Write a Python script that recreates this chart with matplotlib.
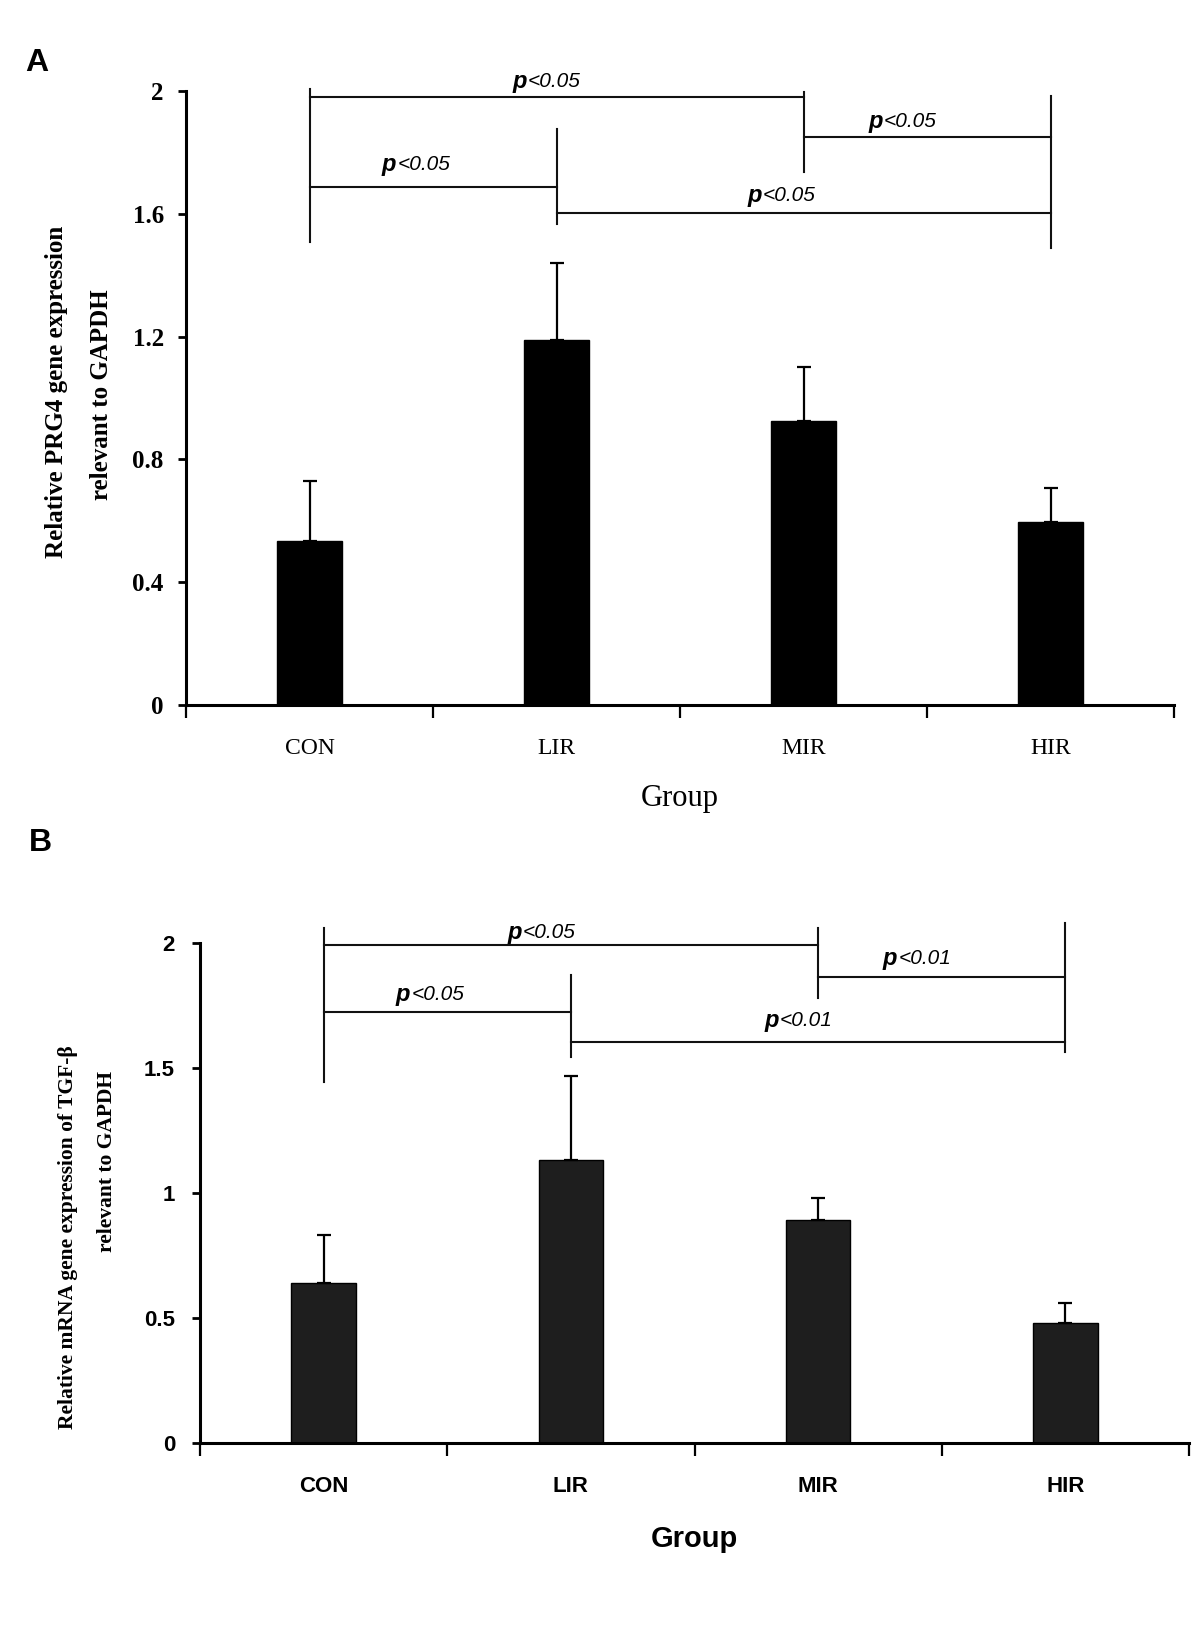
import matplotlib
matplotlib.use("Agg")
import matplotlib.pyplot as plt

groups = ['CON', 'LIR', 'MIR', 'HIR']

# panel A: PRG4
prg4_mean = [0.535, 1.19, 0.925, 0.597]
prg4_err = [0.195, 0.25, 0.175, 0.11]
prg4_ticks = [0, 0.4, 0.8, 1.2, 1.6, 2]
prg4_ticklabels = ['0', '0.4', '0.8', '1.2', '1.6', '2']
prg4_p = ['<0.05', '<0.05', '<0.05', '<0.05']

# panel B: TGF-beta
tgf_mean = [0.641, 1.132, 0.892, 0.481]
tgf_err = [0.192, 0.336, 0.088, 0.08]
tgf_ticks = [0, 0.5, 1, 1.5, 2]
tgf_ticklabels = ['0', '0.5', '1', '1.5', '2']
tgf_p = ['<0.05', '<0.05', '<0.01', '<0.01']

# bracket geometry (x in group index, y in data units)
a_vert = [(0, 1.508, 2.006), (1, 1.567, 1.876), (2, 1.736, 1.997), (3, 1.49, 1.984)]
a_horz = [(0, 2, 1.98), (0, 1, 1.687), (2, 3, 1.85), (1, 3, 1.603)]
a_lab = [(0.98, 2.03), (0.45, 1.76), (2.42, 1.90), (1.93, 1.66)]

b_vert = [(0, 1.444, 2.06), (1, 1.544, 1.872), (2, 1.78, 2.06), (3, 1.564, 2.08)]
b_horz = [(0, 2, 1.99), (0, 1, 1.724), (2, 3, 1.864), (1, 3, 1.604)]
b_lab = [(0.90, 2.044), (0.45, 1.796), (2.42, 1.94), (1.94, 1.69)]

W, H = 1200, 1636
fig = plt.figure(figsize=(W / 100, H / 100), dpi=100)

serif = ['Liberation Serif', 'DejaVu Serif']
narrow = ['Liberation Sans Narrow', 'Liberation Sans', 'DejaVu Sans']
arial = ['Liberation Sans', 'DejaVu Sans']


def px_axes(left, right, top, bottom):
    return fig.add_axes([left / W, 1 - bottom / H, (right - left) / W, (bottom - top) / H])


def draw_panel(ax, mean, err, color, ticks, ticklabels, tickfont, ticksize, tickpad,
               xfont, xweight, xsize, vert, horz, lab, ptext):
    x = range(len(groups))
    ax.bar(x, mean, width=0.26, color=color, edgecolor='black', linewidth=1, zorder=2)
    ax.errorbar(x, mean, yerr=[[0] * len(err), err], fmt='none', ecolor='black',
                elinewidth=1.6, capsize=5, capthick=1.6, zorder=3)
    ax.set_xlim(-0.5, 3.5)
    ax.set_ylim(0, 2)
    for s in ['top', 'right']:
        ax.spines[s].set_visible(False)
    for s in ['left', 'bottom']:
        ax.spines[s].set_linewidth(2.2)
    ax.set_yticks(ticks)
    ax.set_yticklabels(ticklabels, family=tickfont, fontsize=ticksize, fontweight='bold')
    ax.tick_params(axis='y', length=6, width=2, pad=tickpad)
    ax.set_xticks([-0.5, 0.5, 1.5, 2.5, 3.5])
    ax.set_xticklabels([])
    ax.tick_params(axis='x', length=9, width=1.6, direction='out')
    ax.set_xticks(list(x), minor=True)
    ax.set_xticklabels(groups, minor=True, family=xfont, fontsize=xsize, fontweight=xweight)
    ax.tick_params(axis='x', which='minor', length=0, pad=24)
    for xv, y0, y1 in vert:
        ax.plot([xv, xv], [y0, y1], color='#111111', lw=1.5, clip_on=False)
    for x0, x1, yv in horz:
        ax.plot([x0, x1], [yv, yv], color='#111111', lw=1.5, clip_on=False)
    for (lx, ly), t in zip(lab, ptext):
        ax.text(lx - 0.1, ly, 'p', style='italic', fontweight='bold', family=arial,
                fontsize=17, ha='right', va='center', clip_on=False)
        ax.text(lx - 0.095, ly, t, style='italic', family=arial,
                fontsize=15, ha='left', va='center', clip_on=False)


axA = px_axes(186, 1174, 91, 705)
draw_panel(axA, prg4_mean, prg4_err, 'black', prg4_ticks, prg4_ticklabels, serif, 18, 10,
           serif, 'normal', 17, a_vert, a_horz, a_lab, prg4_p)
axA.set_xlabel('Group', family=serif, fontsize=22, labelpad=18)

axB = px_axes(200, 1189, 943, 1443)
draw_panel(axB, tgf_mean, tgf_err, '#1e1e1e', tgf_ticks, tgf_ticklabels, narrow, 16, 12,
           narrow, 'bold', 16, b_vert, b_horz, b_lab, tgf_p)
axB.set_xlabel('Group', family=narrow, fontsize=21, fontweight='bold', labelpad=20)

# y labels
fig.text(57 / W, 1 - 392 / H, 'Relative PRG4 gene expression', rotation=90, family=serif,
         fontweight='bold', fontsize=18, ha='center', va='center')
fig.text(101 / W, 1 - 395 / H, 'relevant to GAPDH', rotation=90, family=serif,
         fontweight='bold', fontsize=18, ha='center', va='center')
fig.text(68 / W, 1 - 1237 / H, 'Relative mRNA gene expression of TGF-β', rotation=90,
         family=serif, fontweight='bold', fontsize=15.5, ha='center', va='center')
fig.text(107 / W, 1 - 1161 / H, 'relevant to GAPDH', rotation=90, family=serif,
         fontweight='bold', fontsize=15.5, ha='center', va='center')

# panel letters
fig.text(37 / W, 1 - 63 / H, 'A', family=arial, fontweight='bold', fontsize=23,
         ha='center', va='center')
fig.text(40 / W, 1 - 843 / H, 'B', family=arial, fontweight='bold', fontsize=23,
         ha='center', va='center')

fig.savefig('out.png', dpi=100, facecolor='white')
